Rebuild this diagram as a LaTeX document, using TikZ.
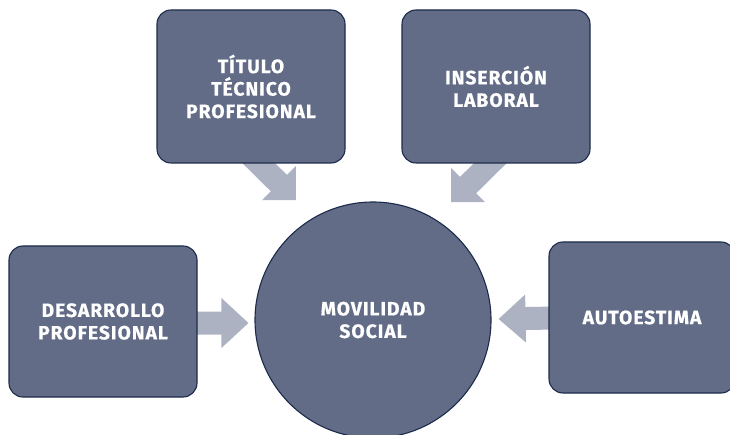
\documentclass[tikz,border=0pt]{standalone}
\usepackage{fontspec}
\setmainfont{Fira Sans}[LetterSpace=5, BoldFeatures={FakeBold=0.6}]
\usetikzlibrary{calc}
\definecolor{boxfill}{HTML}{626C87}
\definecolor{boxline}{HTML}{1C2B4B}
\definecolor{arrowfill}{HTML}{ADB2C2}
\pgfdeclarelayer{bg}
\pgfsetlayers{bg,main}
\newcommand\blockarrow[4]{%
  \coordinate (hb) at ($(#2)!#3!(#1)$);
  \fill[arrowfill] ($(#1)!11.5pt!90:(#2)$) -- ($(hb)!11.5pt!90:(#2)$) -- ($(hb)!#4!90:(#2)$) -- (#2)
    -- ($(hb)!#4!-90:(#2)$) -- ($(hb)!11.5pt!-90:(#2)$) -- ($(#1)!11.5pt!-90:(#2)$) -- cycle;}
\tikzset{
  card/.style={draw=boxline, line width=1.1pt, fill=boxfill, rounded corners=14pt,
    text=white, align=center, inner sep=0pt,
    font=\bfseries\fontsize{19.3}{22.5}\selectfont},
  hub/.style={circle, draw=boxline, line width=1.1pt, fill=boxfill, minimum size=236pt,
    text=white, align=center, inner sep=0pt,
    font=\bfseries\fontsize{19.3}{22.5}\selectfont}
}
\begin{document}
\begin{tikzpicture}[x=1pt,y=-1pt]
\useasboundingbox (0,0) rectangle (730,435);
\clip (0,0) rectangle (730,435);
\node[card, minimum width=188pt, minimum height=153pt] (b1) at (251,86.5) {TÍTULO\\TÉCNICO\\PROFESIONAL};
\node[card, minimum width=188pt, minimum height=153pt] (b2) at (496,86.5) {INSERCIÓN\\LABORAL};
\node[card, minimum width=188pt, minimum height=151pt] (b3) at (103,321.5) {DESARROLLO\\PROFESIONAL};
\node[card, minimum width=186pt, minimum height=151pt] (b4) at (642,317.5) {AUTOESTIMA};
\node[hub] (c) at (373,320) {MOVILIDAD\\SOCIAL};
\coordinate (t1) at ($(b1.south)+(-1,-9)$);
\coordinate (h1) at ($(c.center)+(-77,-120)$);
\coordinate (t2) at ($(b2.south)+(3,-9)$);
\coordinate (h2) at ($(c.center)+(78,-118)$);
\coordinate (t3) at ($(b3.east)+(-7,1.5)$);
\coordinate (h3) at ($(c.west)+(-6,3)$);
\coordinate (t4) at ($(b4.west)+(7,0.5)$);
\coordinate (h4) at ($(c.east)+(7,-1)$);
\begin{pgfonlayer}{bg}
\blockarrow{t1}{h1}{24pt}{24pt}
\blockarrow{t2}{h2}{24pt}{24pt}
\blockarrow{t3}{h3}{27pt}{25pt}
\blockarrow{t4}{h4}{27pt}{24pt}
\end{pgfonlayer}
\end{tikzpicture}
\end{document}
